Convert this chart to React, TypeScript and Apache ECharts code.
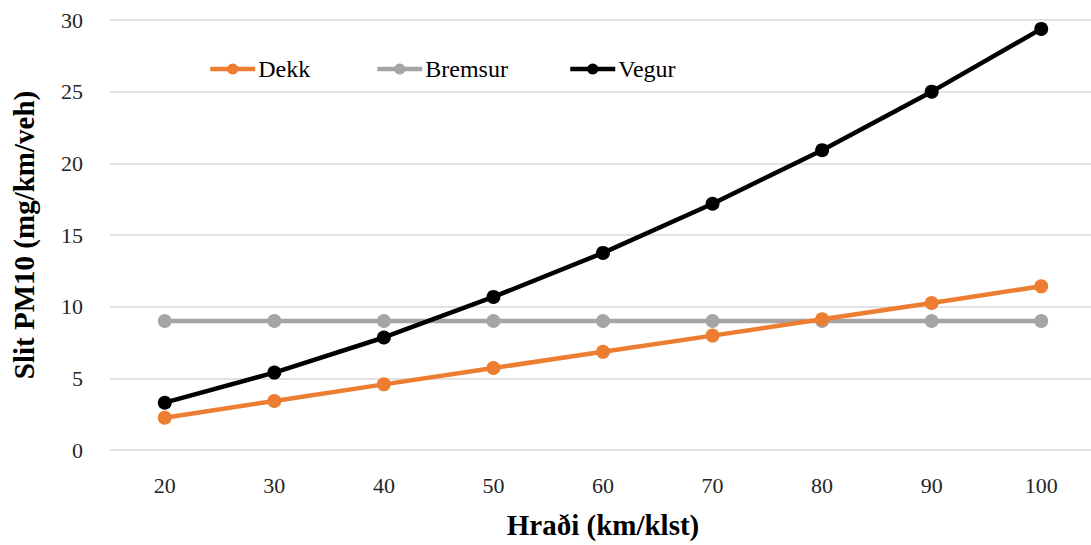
import React, { useEffect, useRef } from "react";
import * as echarts from "echarts";

const speeds = ["20", "30", "40", "50", "60", "70", "80", "90", "100"];
const dekk = [2.25, 3.42, 4.58, 5.72, 6.85, 7.98, 9.12, 10.26, 11.42];
const bremsur = [9.0, 9.0, 9.0, 9.0, 9.0, 9.0, 9.0, 9.0, 9.0];
const vegur = [3.3, 5.4, 7.85, 10.68, 13.75, 17.18, 20.92, 25.0, 29.38];

const FONT = "Liberation Serif";

export default function App() {
  const ref = useRef<HTMLDivElement>(null);
  useEffect(() => {
    const chart = echarts.init(ref.current!, null, { renderer: "svg" });
    const mk = (name: string, data: number[], color: string) => ({
      name,
      type: "line",
      data,
      symbol: "circle",
      symbolSize: 14,
      lineStyle: { width: 4.5, color },
      itemStyle: { color },
      z: name === "Dekk" ? 4 : name === "Bremsur" ? 3 : 5,
    });
    const legendBase = {
      top: 52,
      itemWidth: 45,
      itemHeight: 14,
      itemGap: 2,
      lineStyle: { width: 4.5 },
      textStyle: { fontFamily: FONT, fontSize: 24, color: "#000", padding: [0, 0, 0, -2] },
    };
    chart.setOption({
      animation: false,
      backgroundColor: "#fff",
      textStyle: { fontFamily: FONT },
      grid: { left: 110, top: 20, width: 986, height: 430, outerBoundsMode: "none", containLabel: false },
      legend: [
        { ...legendBase, left: 203, data: ["Dekk"] },
        { ...legendBase, left: 370, data: ["Bremsur"] },
        { ...legendBase, left: 563, data: ["Vegur"] },
      ],
      xAxis: {
        type: "category",
        data: speeds,
        boundaryGap: true,
        name: "Hraði (km/klst)",
        nameLocation: "middle",
        nameGap: 60,
        nameTextStyle: { fontFamily: FONT, fontSize: 29, fontWeight: "bold", color: "#000" },
        axisLine: { show: false },
        axisTick: { show: false },
        axisLabel: { fontFamily: FONT, fontSize: 22, color: "#262626", margin: 24 },
      },
      yAxis: {
        type: "value",
        min: 0,
        max: 30,
        interval: 5,
        name: "Slit PM10 (mg/km/veh)",
        nameLocation: "middle",
        nameGap: 72,
        nameTextStyle: { fontFamily: FONT, fontSize: 29, fontWeight: "bold", color: "#000" },
        axisLine: { show: false },
        axisTick: { show: false },
        axisLabel: { fontFamily: FONT, fontSize: 22, color: "#262626", margin: 27 },
        splitLine: { lineStyle: { color: "#D9D9D9", width: 1.5 } },
      },
      series: [
        mk("Dekk", dekk, "#ED7D31"),
        mk("Bremsur", bremsur, "#A5A5A5"),
        mk("Vegur", vegur, "#000000"),
      ],
    });
    return () => chart.dispose();
  }, []);
  return <div ref={ref} style={{ width: 1091, height: 545, position: "absolute", left: 0, top: 0 }} />;
}
